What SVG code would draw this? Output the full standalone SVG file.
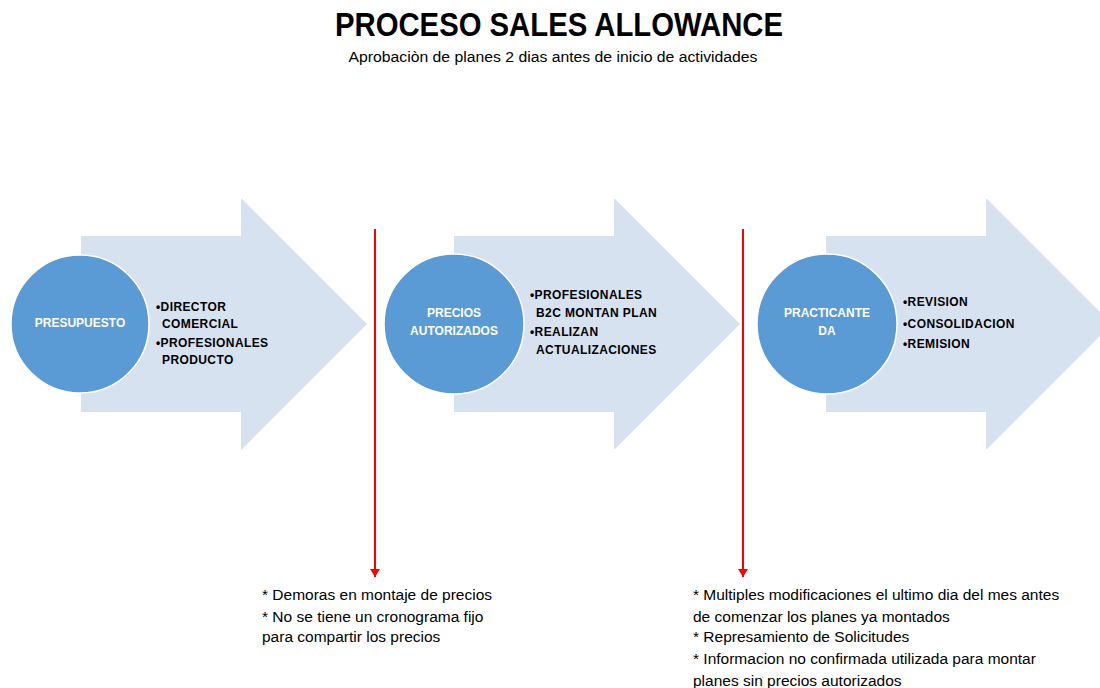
<svg xmlns="http://www.w3.org/2000/svg" width="1100" height="688" viewBox="0 0 1100 688">
<defs>
<style>
.arrow{fill:#D7E2F1;}
.circ{fill:#5B9BD5;stroke:#FFFFFF;stroke-width:1.5;}
.clabel{font-family:"Liberation Sans",Arial,sans-serif;font-weight:bold;font-size:12px;fill:#FFFFFF;text-anchor:middle;}
.blt{font-family:"Liberation Sans",Arial,sans-serif;font-weight:bold;font-size:12px;letter-spacing:0.4px;fill:#000000;}
.note{font-family:"Liberation Sans",Arial,sans-serif;font-size:15.5px;fill:#000000;}
.title{font-family:"Liberation Sans",Arial,sans-serif;font-weight:bold;font-size:33px;fill:#000000;text-anchor:middle;}
.sub{font-family:"Liberation Sans",Arial,sans-serif;font-size:14px;fill:#000000;text-anchor:middle;}
.red{stroke:#FF0000;stroke-width:2;fill:none;}
</style>
<marker id="rh" markerWidth="10" markerHeight="10" refX="8" refY="5" orient="auto" markerUnits="userSpaceOnUse" viewBox="0 0 10 10">
<path d="M0,0 L8,5 L0,10 Z" fill="#FF0000"/>
</marker>
</defs>
<rect width="1100" height="688" fill="#FFFFFF"/>
<text class="title" x="559" y="36" textLength="448" lengthAdjust="spacingAndGlyphs">PROCESO SALES ALLOWANCE</text>
<text class="sub" x="553" y="62" textLength="409" lengthAdjust="spacingAndGlyphs">Aprobaciòn de planes 2 dias antes de inicio de actividades</text>

<g id="step1">
<polygon class="arrow" points="81,236 241,236 241,198 367,324 241,450 241,412 81,412"/>
<circle class="circ" cx="80" cy="324" r="69"/>
<text class="clabel" x="80" y="327">PRESUPUESTO</text>
<text class="blt" x="156" y="311">•DIRECTOR</text>
<text class="blt" x="162" y="328">COMERCIAL</text>
<text class="blt" x="156" y="347">•PROFESIONALES</text>
<text class="blt" x="162" y="364">PRODUCTO</text>
</g>

<g id="step2">
<polygon class="arrow" points="454,236 614,236 614,198 740,324 614,450 614,412 454,412"/>
<circle class="circ" cx="454" cy="324" r="70"/>
<text class="clabel" x="454" y="317">PRECIOS</text>
<text class="clabel" x="454" y="335">AUTORIZADOS</text>
<text class="blt" x="530" y="299">•PROFESIONALES</text>
<text class="blt" x="536" y="317">B2C MONTAN PLAN</text>
<text class="blt" x="530" y="336">•REALIZAN</text>
<text class="blt" x="536" y="354">ACTUALIZACIONES</text>
</g>

<g id="step3">
<polygon class="arrow" points="826,236 986,236 986,198 1112,324 986,450 986,412 826,412"/>
<circle class="circ" cx="827" cy="324" r="70"/>
<text class="clabel" x="827" y="317">PRACTICANTE</text>
<text class="clabel" x="827" y="335">DA</text>
<text class="blt" x="903" y="306">•REVISION</text>
<text class="blt" x="903" y="328">•CONSOLIDACION</text>
<text class="blt" x="903" y="348">•REMISION</text>
</g>

<g id="connectors">
<line class="red" x1="375" y1="229" x2="375" y2="577" marker-end="url(#rh)"/>
<line class="red" x1="743" y1="229" x2="743" y2="577" marker-end="url(#rh)"/>
</g>

<g id="note1">
<text class="note" x="262" y="600">* Demoras en montaje de precios</text>
<text class="note" x="262" y="622">* No se tiene un cronograma fijo</text>
<text class="note" x="262" y="642">para compartir los precios</text>
</g>

<g id="note2">
<text class="note" x="693" y="600">* Multiples modificaciones el ultimo dia del mes antes</text>
<text class="note" x="693" y="622">de comenzar los planes ya montados</text>
<text class="note" x="693" y="642">* Represamiento de Solicitudes</text>
<text class="note" x="693" y="664">* Informacion no confirmada utilizada para montar</text>
<text class="note" x="693" y="686">planes sin precios autorizados</text>
</g>
</svg>
